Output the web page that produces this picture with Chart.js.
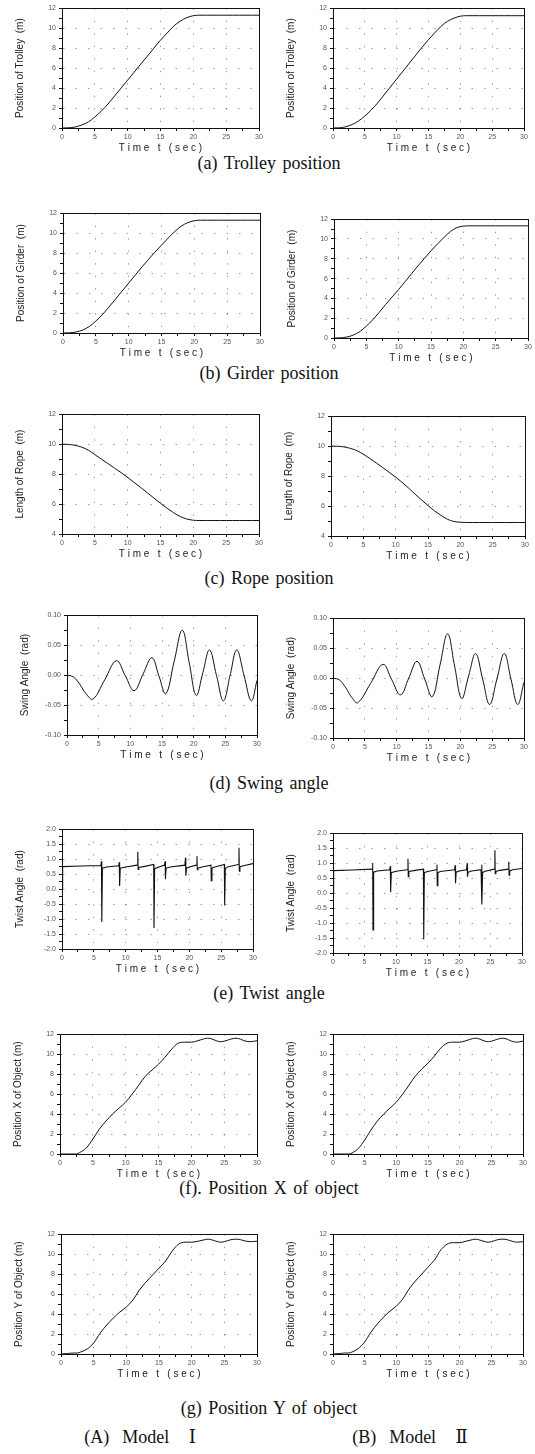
<!DOCTYPE html>
<html>
<head>
<meta charset="utf-8">
<script src="https://cdn.jsdelivr.net/npm/chart.js@4/dist/chart.umd.min.js"></script>
<style>
  body { margin: 0; background: #fff; width: 535px; height: 1454px; position: relative; overflow: hidden; }
  canvas { position: absolute; }
  .cap { position: absolute; font-family: "Liberation Serif", "DejaVu Serif", "Times New Roman", serif; font-size: 18px; color: #111;
         white-space: pre; word-spacing: 2px; transform: translate(-50%, -50%); }
</style>
</head>
<body>
<div class="cap" style="left:269px;top:163px">(a) Trolley position</div>
<div class="cap" style="left:269px;top:373px">(b) Girder position</div>
<div class="cap" style="left:269px;top:578px">(c) Rope position</div>
<div class="cap" style="left:269px;top:783px">(d) Swing angle</div>
<div class="cap" style="left:269px;top:993px">(e) Twist angle</div>
<div class="cap" style="left:269px;top:1188px">(f). Position X of object</div>
<div class="cap" style="left:269px;top:1408px">(g) Position Y of object</div>
<div class="cap" style="left:140px;top:1437px">(A)  Model   Ⅰ</div>
<div class="cap" style="left:410px;top:1437px">(B)  Model   Ⅱ</div>

<script>
// time axis (sec)
const timeSec = [0,1,2,3,4,5,6,7,8,9,10,11,12,13,14,15,16,17,18,19,20,21,22,23,24,25,26,27,28,29,30];

// (a) trolley / (b) girder / (c) rope, model I (A) and model II (B)
const trolleyA = [0,0.02,0.1,0.3,0.6,1.1,1.7,2.4,3.2,4.0,4.8,5.6,6.4,7.2,8.0,8.8,9.5,10.2,10.7,11.05,11.25,11.3,11.3,11.3,11.3,11.3,11.3,11.3,11.3,11.3,11.3];
const trolleyB = [0,0.02,0.12,0.35,0.7,1.2,1.8,2.5,3.3,4.1,4.9,5.7,6.5,7.3,8.1,8.85,9.55,10.2,10.7,11.0,11.2,11.25,11.25,11.25,11.25,11.25,11.25,11.25,11.25,11.25,11.25];
const girderA = [0,0.02,0.1,0.3,0.65,1.2,1.85,2.6,3.4,4.2,5.0,5.8,6.6,7.35,8.1,8.8,9.5,10.15,10.7,11.05,11.25,11.3,11.3,11.3,11.3,11.3,11.3,11.3,11.3,11.3,11.3];
const girderB = [0,0.02,0.1,0.3,0.65,1.2,1.85,2.6,3.4,4.15,4.9,5.7,6.5,7.3,8.05,8.8,9.5,10.15,10.75,11.15,11.3,11.33,11.33,11.33,11.33,11.33,11.33,11.33,11.33,11.33,11.33];
const ropeA = [10,9.98,9.92,9.8,9.6,9.3,9.0,8.7,8.4,8.1,7.78,7.44,7.1,6.75,6.4,6.05,5.72,5.42,5.17,5.0,4.92,4.9,4.9,4.9,4.9,4.9,4.9,4.9,4.9,4.9,4.9];
const ropeB = [10,9.99,9.95,9.85,9.7,9.46,9.18,8.88,8.57,8.25,7.93,7.58,7.2,6.8,6.41,6.03,5.68,5.38,5.12,4.97,4.92,4.9,4.9,4.9,4.9,4.9,4.9,4.9,4.9,4.9,4.9];

// (d) swing angle (rad)
const swingTA = [0,1,2,3,4.1,5.95,7.8,9.2,10.6,12.0,13.4,14.5,15.6,16.9,18.2,19.3,20.4,21.45,22.5,23.6,24.7,25.75,26.8,27.95,29.1,30];
const swingA  = [0,-0.003,-0.015,-0.031,-0.040,-0.008,0.024,-0.001,-0.026,0.0015,0.029,-0.001,-0.031,0.022,0.075,0.0205,-0.034,0.004,0.042,-0.0005,-0.043,-0.0005,0.042,-0.0005,-0.043,-0.009];
const swingTB = [0,1,2,3,3.9,5.9,7.85,9.2,10.6,11.9,13.2,14.4,15.6,16.8,18.0,19.1,20.2,21.3,22.4,23.5,24.6,25.75,26.9,27.95,29.0,30];
const swingB  = [0,-0.003,-0.016,-0.033,-0.041,-0.009,0.023,-0.002,-0.028,0.0,0.028,-0.0015,-0.031,0.0215,0.074,0.02,-0.034,0.0035,0.041,-0.0015,-0.044,-0.0015,0.041,-0.0015,-0.044,-0.007];

// (e) twist angle (rad)
const twistTA = [0,0.05,0.15,3, 6.1,6.2,6.25,6.35,7, 8.9,9.0,9.05,9.15,10, 11.8,11.9,11.95,12.05,13, 14.4,14.45,14.55,15,
                 16.1,16.2,16.25,16.35,17, 19.3,19.4,19.45,19.55,20, 21.1,21.2,21.25,21.35,22, 23.4,23.45,23.55,24,
                 25.5,25.55,25.65,26, 27.7,27.8,27.85,27.95,28.5, 30];
const twistA  = [0.75,0.0,0.75,0.77, 0.79,0.93,-1.1,0.7,0.74, 0.78,0.9,0.1,0.7,0.74, 0.8,1.25,0.66,0.72,0.76, 0.82,-1.3,0.68,0.72,
                 0.8,0.93,0.33,0.7,0.74, 0.8,1.05,0.45,0.7,0.74, 0.8,1.1,0.65,0.7,0.74, 0.8,0.28,0.7,0.74,
                 0.82,-0.55,0.68,0.74, 0.82,1.38,0.6,0.75,0.78, 0.85];
const twistTB = [0,0.05,0.15,3, 6.2,6.3,6.35,6.45,7, 9.0,9.1,9.15,9.25,10, 11.8,11.9,11.95,12.05,13, 14.35,14.4,14.5,15,
                 16.4,16.5,16.55,16.65,17, 19.3,19.4,19.45,19.55,20, 21.2,21.3,21.35,21.45,22, 23.5,23.6,23.65,23.75,24,
                 25.6,25.7,25.75,25.85,26.5, 27.8,27.9,27.95,28.05,28.5, 30];
const twistB  = [0.75,0.0,0.75,0.77, 0.8,1.0,-1.23,0.7,0.74, 0.78,0.9,0.03,0.68,0.73, 0.78,1.15,0.55,0.72,0.76, 0.8,-1.55,0.68,0.72,
                 0.78,0.95,0.25,0.68,0.72, 0.78,0.93,0.33,0.7,0.74, 0.78,1.0,0.55,0.7,0.74, 0.78,0.95,-0.38,0.68,0.72,
                 0.8,1.43,0.65,0.72,0.76, 0.8,1.05,0.6,0.74,0.78, 0.82];

// (f), (g) object position (m)
const objT  = [0,1,2,2.5,3,4,5,6,7,8,9,10,11,12,13,14,15,16,17,18,19,20,21,22,22.5,23,24,24.5,25,26,26.8,27.5,28,29,30];
const objXA = [0,0,0,0,0.15,0.6,1.5,2.5,3.3,4.0,4.6,5.2,6.0,6.9,7.8,8.4,9.0,9.7,10.5,11.1,11.2,11.2,11.35,11.55,11.6,11.55,11.3,11.25,11.3,11.5,11.6,11.5,11.35,11.25,11.35];
const objXB = [0,0,0,0,0.1,0.55,1.4,2.4,3.3,4.0,4.6,5.2,6.0,6.9,7.8,8.5,9.1,9.8,10.6,11.1,11.2,11.2,11.35,11.55,11.6,11.55,11.3,11.25,11.3,11.5,11.6,11.5,11.35,11.2,11.3];
const objYA = [0,0.05,0.1,0.1,0.2,0.5,1.1,2.1,2.9,3.6,4.2,4.7,5.4,6.4,7.2,7.9,8.6,9.3,10.3,11.0,11.2,11.2,11.3,11.45,11.5,11.45,11.25,11.2,11.25,11.45,11.5,11.45,11.35,11.25,11.3];
const objYB = [0,0.05,0.1,0.1,0.2,0.55,1.2,2.2,3.0,3.7,4.3,4.8,5.5,6.5,7.3,8.0,8.7,9.4,10.4,11.0,11.15,11.15,11.3,11.45,11.5,11.45,11.25,11.2,11.25,11.45,11.5,11.45,11.35,11.2,11.25];

// y-axis kinds: min, max, minor step, labelled step, decimals
const axes = {
  pos:   { min: 0,    max: 12,  step: 1,     major: 2,    dec: 0 },
  rope:  { min: 4,    max: 12,  step: 1,     major: 2,    dec: 0 },
  swing: { min: -0.1, max: 0.1, step: 0.025, major: 0.05, dec: 2 },
  twist: { min: -2,   max: 2,   step: 0.25,  major: 0.5,  dec: 1 }
};

// plot-area rectangles (page px) for each panel
const panels = [
  { l: 62,  t: 7,    r: 259, b: 128,  title: 'Position of Trolley  (m)', axis: 'pos',   x: timeSec, y: trolleyA },
  { l: 333, t: 7,    r: 524, b: 128,  title: 'Position of Trolley  (m)', axis: 'pos',   x: timeSec, y: trolleyB },
  { l: 63,  t: 212,  r: 260, b: 333,  title: 'Position of Girder  (m)',  axis: 'pos',   x: timeSec, y: girderA },
  { l: 334, t: 218,  r: 528, b: 338,  title: 'Position of Girder  (m)',  axis: 'pos',   x: timeSec, y: girderB },
  { l: 62,  t: 413,  r: 259, b: 534,  title: 'Length of Rope  (m)',      axis: 'rope',  x: timeSec, y: ropeA },
  { l: 331, t: 415,  r: 525, b: 536,  title: 'Length of Rope  (m)',      axis: 'rope',  x: timeSec, y: ropeB },
  { l: 67,  t: 614,  r: 257, b: 735,  title: 'Swing Angle  (rad)',       axis: 'swing', x: swingTA, y: swingA, wave: true },
  { l: 333, t: 617,  r: 524, b: 738,  title: 'Swing Angle  (rad)',       axis: 'swing', x: swingTB, y: swingB, wave: true },
  { l: 62,  t: 828,  r: 253, b: 949,  title: 'Twist Angle  (rad)',       axis: 'twist', x: twistTA, y: twistA, sharp: true },
  { l: 333, t: 832,  r: 522, b: 953,  title: 'Twist Angle  (rad)',       axis: 'twist', x: twistTB, y: twistB, sharp: true },
  { l: 60,  t: 1033, r: 257, b: 1154, title: 'Position X of Object (m)', axis: 'pos',   x: objT,    y: objXA },
  { l: 333, t: 1033, r: 523, b: 1154, title: 'Position X of Object (m)', axis: 'pos',   x: objT,    y: objXB },
  { l: 61,  t: 1233, r: 257, b: 1354, title: 'Position Y of Object (m)', axis: 'pos',   x: objT,    y: objYA },
  { l: 333, t: 1233, r: 523, b: 1354, title: 'Position Y of Object (m)', axis: 'pos',   x: objT,    y: objYB }
];

const YW = 48, XH = 26, PT = 6, PR = 8;

Chart.defaults.font.family = 'Arial, "Liberation Sans", sans-serif';
Chart.defaults.color = '#444';

// box round the plot area
const frame = {
  id: 'frame',
  afterDraw(chart) {
    const a = chart.chartArea, ctx = chart.ctx;
    ctx.save();
    ctx.strokeStyle = '#111';
    ctx.lineWidth = 1;
    ctx.strokeRect(Math.round(a.left) + 0.5, Math.round(a.top) + 0.5, Math.round(a.right - a.left), Math.round(a.bottom - a.top));
    ctx.restore();
  }
};

function isMajor(v, m) {
  const q = v / m;
  return Math.abs(q - Math.round(q)) < 1e-6;
}

// dotted grid on labelled ticks only, small tick marks on every step
function grid(major) {
  return {
    color: c => (c.tick && isMajor(c.tick.value, major)) ? 'rgba(0,0,0,0.42)' : 'rgba(0,0,0,0)',
    lineWidth: 0.9,
    tickLength: 3,
    tickColor: '#111',
    tickWidth: 1,
    tickBorderDash: []
  };
}

panels.forEach(p => {
  const ax = axes[p.axis];
  const cv = document.createElement('canvas');
  const w = YW + (p.r - p.l) + PR;
  const h = PT + (p.b - p.t) + XH;
  cv.width = w;
  cv.height = h;
  cv.style.left = (p.l - YW) + 'px';
  cv.style.top = (p.t - PT) + 'px';
  document.body.appendChild(cv);

  new Chart(cv, {
    type: 'line',
    data: {
      datasets: [{
        data: p.x.map((t, i) => ({ x: t, y: p.y[i] })),
        borderColor: '#111',
        borderWidth: p.sharp ? 1.1 : 1,
        pointRadius: 0,
        fill: false,
        tension: p.wave ? 0.4 : 0,
        cubicInterpolationMode: (p.sharp || p.wave) ? 'default' : 'monotone'
      }]
    },
    options: {
      responsive: false,
      animation: false,
      devicePixelRatio: 1,
      layout: { padding: { top: PT, right: PR, left: 0, bottom: 0 } },
      plugins: { legend: { display: false }, tooltip: { enabled: false } },
      scales: {
        x: {
          type: 'linear', min: 0, max: 30,
          afterFit: s => { s.height = XH; },
          ticks: {
            stepSize: 2.5, autoSkip: false, maxRotation: 0, padding: 2,
            font: { size: 7 }, color: '#555',
            callback: v => isMajor(v, 5) ? String(v) : ''
          },
          grid: grid(5),
          border: { color: '#111', width: 1, dash: [1.5, 11] },
          title: { display: true, text: 'T i m e   t   ( s e c )', font: { size: 10 }, color: '#222', padding: 0 }
        },
        y: {
          min: ax.min, max: ax.max,
          afterFit: s => { s.width = YW; },
          ticks: {
            stepSize: ax.step, autoSkip: false, padding: 3,
            font: { size: 7 }, color: '#555',
            callback: v => isMajor(v, ax.major) ? Number(v).toFixed(ax.dec) : ''
          },
          grid: grid(ax.major),
          border: { color: '#111', width: 1, dash: [1.5, 11] },
          title: { display: true, text: p.title, font: { size: 10 }, color: '#222', padding: 0 }
        }
      }
    },
    plugins: [frame]
  });
});
</script>
</body>
</html>
